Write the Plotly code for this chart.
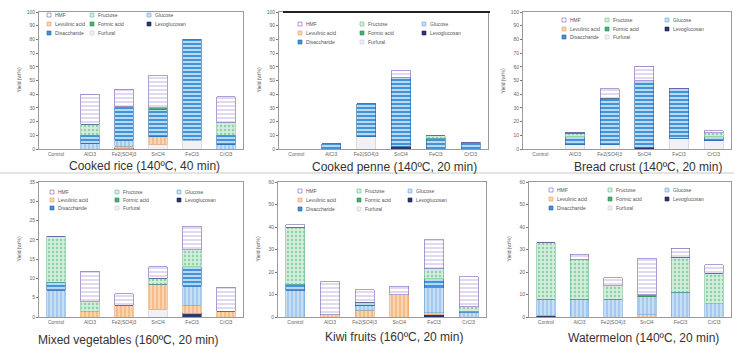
import plotly.graph_objects as go

W, H = 734, 347

categories = ["Control", "AlCl3", "Fe2(SO4)3", "SnCl4", "FeCl3", "CrCl3"]
series_names = ["Levoglucosan", "Furfural", "Levulinic acid", "Glucose",
                "Disaccharide", "Fructose", "Formic acid", "HMF"]
legend_order = [["HMF", "Fructose", "Glucose"],
                ["Levulinic acid", "Formic acid", "Levoglucosan"],
                ["Disaccharide", "Furfural"]]

panel_titles = ["Cooked rice (140ºC, 40 min)", "Cooked penne (140ºC, 20 min)",
                "Bread crust (140ºC, 20 min)", "Mixed vegetables (160ºC, 20 min)",
                "Kiwi fruits (160ºC, 20 min)", "Watermelon (140ºC, 20 min)"]
y_max = [100, 100, 100, 35, 60, 60]
y_step = [10, 10, 10, 5, 10, 10]

# values (wt%) per series, categories in order above
rice = {
    "Levoglucosan":   [0, 0, 0.5, 0, 0, 0],
    "Furfural":       [0, 0, 0, 3.5, 6, 0],
    "Levulinic acid": [0, 0, 1.5, 5.5, 0, 0],
    "Glucose":        [0, 4, 4.5, 0, 1, 3],
    "Disaccharide":   [0, 6, 24.5, 19.5, 73, 7],
    "Fructose":       [0, 8, 0, 0, 0, 9],
    "Formic acid":    [0, 0, 0, 1.5, 0, 0],
    "HMF":            [0, 22, 12.5, 24, 0, 19],
}
penne = {
    "Levoglucosan":   [0, 0, 0, 2, 0, 0],
    "Furfural":       [0, 0, 9, 0, 0, 0],
    "Levulinic acid": [0, 0, 0, 0, 0, 0],
    "Glucose":        [0, 0, 0, 0, 0, 0],
    "Disaccharide":   [0, 3.7, 24, 50, 8, 5],
    "Fructose":       [0, 0, 0, 0, 1.8, 0],
    "Formic acid":    [0, 0, 0, 0, 0, 0],
    "HMF":            [0, 0, 0, 5, 0, 0],
}
bread = {
    "Levoglucosan":   [0, 0, 0, 1, 0, 0],
    "Furfural":       [0, 3, 3, 0, 8, 6],
    "Levulinic acid": [0, 0, 0, 0, 0, 0],
    "Glucose":        [0, 0, 0, 0, 0, 0],
    "Disaccharide":   [0, 6, 34, 49, 36.5, 3],
    "Fructose":       [0, 2, 0, 0, 0, 3],
    "Formic acid":    [0, 1, 0, 0, 0, 0],
    "HMF":            [0, 0, 7, 10.5, 0, 1.5],
}
vegetables = {
    "Levoglucosan":   [0, 0, 0, 0, 1, 0],
    "Furfural":       [0, 0, 0, 2, 0, 0],
    "Levulinic acid": [0, 1.3, 3, 6.5, 2, 1.5],
    "Glucose":        [7, 0, 0, 0, 5, 0],
    "Disaccharide":   [2, 0, 0, 0, 5, 0],
    "Fructose":       [12, 2.7, 0, 1.5, 4.5, 0],
    "Formic acid":    [0, 0, 0, 0, 0, 0],
    "HMF":            [0, 7.8, 3, 3, 6, 6.2],
}
kiwi = {
    "Levoglucosan":   [0, 0, 0, 0, 1, 0],
    "Furfural":       [0, 0, 0, 0, 0, 0],
    "Levulinic acid": [0, 1, 3, 10, 1, 0],
    "Glucose":        [12, 0, 2, 0, 11, 2],
    "Disaccharide":   [2.5, 0, 1.5, 0, 4, 0.5],
    "Fructose":       [25.5, 0, 0, 0, 4.5, 2],
    "Formic acid":    [0, 0, 0, 0, 0, 0],
    "HMF":            [1, 14.7, 5.7, 3.7, 12.8, 13.5],
}
watermelon = {
    "Levoglucosan":   [0.5, 0, 0, 0, 0, 0],
    "Furfural":       [0, 0, 0, 0, 0, 0],
    "Levulinic acid": [0, 0, 0, 1, 0, 0],
    "Glucose":        [7.5, 8, 8, 8, 11, 6],
    "Disaccharide":   [0, 0, 0, 0, 0, 0],
    "Fructose":       [25, 17.5, 6, 0, 15.5, 13.5],
    "Formic acid":    [0, 0, 0, 1, 0, 0],
    "HMF":            [0, 2.5, 3.4, 16.2, 4, 3.8],
}
panels_data = [rice, penne, bread, vegetables, kiwi, watermelon]

styles = {
    "Levoglucosan":   dict(bg="#2f3572", fg="#2f3572", shape="", line="#1d2152", sol=0.3),
    "Furfural":       dict(bg="#f1f0f4", fg="#f1f0f4", shape="", line="#c9c6d6", sol=0.3),
    "Levulinic acid": dict(bg="#fad5b2", fg="#f0ad70", shape="|", line="#e8a060", sol=0.3),
    "Glucose":        dict(bg="#c7dff5", fg="#8fbde8", shape="|", line="#6fa6da", sol=0.3),
    "Disaccharide":   dict(bg="#4393d8", fg="#d6ecfb", shape="-", line="#1f5fa8", sol=0.4),
    "Fructose":       dict(bg="#d3eedd", fg="#8fd0a8", shape=".", line="#6cbf8c", sol=0.3),
    "Formic acid":    dict(bg="#4aae70", fg="#4aae70", shape="", line="#2d8a52", sol=0.3),
    "HMF":            dict(bg="#ffffff", fg="#9a80cc", shape="-", line="#7a5cb8", sol=0.15),
}

# panel boxes in pixels: left, right, top, bottom
boxes = [(39, 243, 12, 149), (279, 488, 12, 149), (523, 731, 12, 149),
         (39, 243, 182, 317), (278, 486, 182, 317), (529, 731, 182, 317)]
# legend placement in pixels: column x positions, row y positions
legend_cols = [(47, 90, 147), (298, 360, 422), (562, 605, 665),
               (50, 115, 177), (298, 357, 408), (549, 608, 665)]
legend_rows = [(15, 24, 33), (24, 33, 42), (20, 29, 37),
               (192, 200, 208), (191, 200, 209), (190, 199, 208)]
title_pos = [(144, 166), (394, 167), (648, 167), (128, 340), (394, 337), (643, 338)]


def px(x):
    return x / W


def py(y):
    return 1 - y / H


fig = go.Figure()
annotations = []
shapes = []

for i, data in enumerate(panels_data):
    n = i + 1
    xa = "x" if n == 1 else f"x{n}"
    ya = "y" if n == 1 else f"y{n}"
    for name in series_names:
        s = styles[name]
        fig.add_trace(go.Bar(
            x=categories, y=data[name], name=name, xaxis=xa, yaxis=ya,
            showlegend=False,
            marker=dict(color=s["bg"], line=dict(color=s["line"], width=0.6),
                        pattern=dict(shape=s["shape"], fgcolor=s["fg"],
                                     bgcolor=s["bg"], size=4, solidity=s["sol"],
                                     fillmode="replace")),
        ))
    l, r, t, b = boxes[i]
    xkey = "xaxis" if n == 1 else f"xaxis{n}"
    ykey = "yaxis" if n == 1 else f"yaxis{n}"
    fig.update_layout({
        xkey: dict(domain=[px(l), px(r)], anchor=ya, type="category",
                   tickfont=dict(size=5, color="#666"), showline=True,
                   linecolor="#9a9a9a", linewidth=1, mirror=True, ticks="",
                   showgrid=False, fixedrange=True),
        ykey: dict(domain=[py(b), py(t)], anchor=xa, range=[0, y_max[i]],
                   dtick=y_step[i], tickfont=dict(size=5, color="#666"),
                   showline=True, linecolor="#9a9a9a", linewidth=1, mirror=True,
                   ticks="outside", ticklen=2, tickcolor="#777",
                   showgrid=False, zeroline=False),
    })
    # y-axis title
    annotations.append(dict(x=px(l - 20), y=py((t + b) / 2), xref="paper", yref="paper",
                            text="Yield (wt%)", textangle=-90, showarrow=False,
                            xanchor="center", yanchor="middle",
                            font=dict(size=5, color="#555")))
    # panel title
    tx, ty = title_pos[i]
    annotations.append(dict(x=px(tx), y=py(ty), xref="paper", yref="paper",
                            text=panel_titles[i], showarrow=False,
                            xanchor="center", yanchor="middle",
                            font=dict(size=12, color="#333", family="Liberation Sans, Arial")))
    # manual legend
    for ri, row in enumerate(legend_order):
        for ci, name in enumerate(row):
            sx = legend_cols[i][ci]
            sy = legend_rows[i][ri]
            s = styles[name]
            shapes.append(dict(type="rect", xref="paper", yref="paper",
                               x0=px(sx), x1=px(sx + 4), y0=py(sy + 2), y1=py(sy - 2),
                               fillcolor=s["bg"],
                               line=dict(color=s["line"], width=0.6)))
            annotations.append(dict(x=px(sx + 6), y=py(sy), xref="paper", yref="paper",
                                    text=name, showarrow=False, xanchor="left",
                                    yanchor="middle",
                                    font=dict(size=5, color="#555")))

# slide dividers and the heavy top border of the penne chart
shapes.append(dict(type="line", xref="paper", yref="paper", x0=px(283), x1=px(490),
                   y0=py(12), y1=py(12), line=dict(color="#222", width=2)))
shapes.append(dict(type="line", xref="paper", yref="paper", x0=0, x1=1,
                   y0=py(173), y1=py(173), line=dict(color="#c8c8c8", width=1)))

fig.update_layout(
    width=W, height=H, margin=dict(l=0, r=0, t=0, b=0),
    template="none", barmode="stack", bargap=0.45,
    paper_bgcolor="white", plot_bgcolor="white",
    font=dict(family="Liberation Sans, Arial"),
    annotations=annotations, shapes=shapes,
)

fig.write_html("out.html", config={"displayModeBar": False},
               post_script="document.body.style.margin='0';document.body.style.overflow='hidden';")
